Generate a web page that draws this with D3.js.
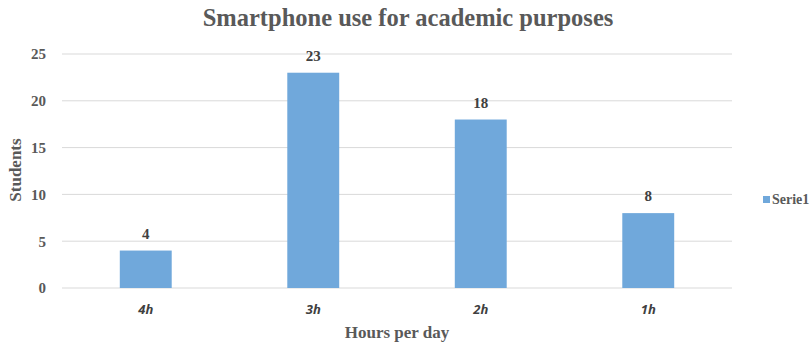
<!DOCTYPE html>
<html>
<head>
<meta charset="utf-8">
<script src="https://cdn.jsdelivr.net/npm/d3@7"></script>
<style>
  body { margin: 0; background: #fff; }
  svg { display: block; }
</style>
</head>
<body>
<div class="chart"></div>
<script>
// data
var categories = ["4h", "3h", "2h", "1h"];
var values = [4, 23, 18, 8];
var yTicks = [0, 5, 10, 15, 20, 25];
var seriesName = "Serie1";

var svgWidth = 812;
var svgHeight = 343;

var margin = { top: 54, right: 80, bottom: 55, left: 62 };
var width = 732 - margin.left;
var height = 288 - margin.top;

var serif = "'Liberation Serif', 'DejaVu Serif', serif";
var sans = "'Open Sans', 'DejaVu Sans', sans-serif";
var barColor = "#70a8db";

var svg = d3.select(".chart")
  .append("svg")
  .attr("width", svgWidth)
  .attr("height", svgHeight);

var chartGroup = svg.append("g")
  .attr("transform", `translate(${margin.left}, ${margin.top})`);

var x = d3.scaleBand()
  .domain(categories)
  .range([0, width])
  .paddingInner(0.69)
  .paddingOuter(0.345);

var y = d3.scaleLinear()
  .domain([0, 25])
  .range([height, 0]);

// gridlines
chartGroup.selectAll(".grid")
  .data(yTicks)
  .enter()
  .append("line")
  .attr("x1", 0)
  .attr("x2", width)
  .attr("y1", d => y(d))
  .attr("y2", d => y(d))
  .attr("stroke", "#d9d9d9")
  .attr("stroke-width", 1);

// y axis labels
var leftAxis = d3.axisLeft(y).tickValues(yTicks).tickSize(0).tickPadding(16);
var yAxis = chartGroup.append("g").call(leftAxis);
yAxis.select(".domain").remove();
yAxis.selectAll("text")
  .attr("font-family", serif)
  .attr("font-weight", "bold")
  .attr("font-size", "15px")
  .attr("fill", "#595959");

// x axis labels
var bottomAxis = d3.axisBottom(x).tickSize(0).tickPadding(17);
var xAxis = chartGroup.append("g")
  .attr("transform", `translate(0, ${height})`)
  .call(bottomAxis);
xAxis.select(".domain").remove();
xAxis.selectAll("text")
  .attr("font-family", sans)
  .attr("font-weight", "bold")
  .attr("font-style", "italic")
  .attr("font-size", "13px")
  .attr("fill", "#404040");

// bars
chartGroup.selectAll(".bar")
  .data(values)
  .enter()
  .append("rect")
  .attr("x", (d, i) => x(categories[i]))
  .attr("y", d => y(d))
  .attr("width", x.bandwidth())
  .attr("height", d => height - y(d))
  .attr("fill", barColor);

// value labels
chartGroup.selectAll(".val")
  .data(values)
  .enter()
  .append("text")
  .attr("x", (d, i) => x(categories[i]) + x.bandwidth() / 2)
  .attr("y", d => y(d) - 12)
  .attr("text-anchor", "middle")
  .attr("font-family", serif)
  .attr("font-weight", "bold")
  .attr("font-size", "15px")
  .attr("fill", "#404040")
  .text(d => d);

// title
svg.append("text")
  .attr("x", 408)
  .attr("y", 26)
  .attr("text-anchor", "middle")
  .attr("font-family", serif)
  .attr("font-weight", "bold")
  .attr("font-size", "24.5px")
  .attr("fill", "#595959")
  .text("Smartphone use for academic purposes");

// axis titles
svg.append("text")
  .attr("x", 397)
  .attr("y", 338)
  .attr("text-anchor", "middle")
  .attr("font-family", serif)
  .attr("font-weight", "bold")
  .attr("font-size", "17px")
  .attr("fill", "#595959")
  .text("Hours per day");

svg.append("text")
  .attr("transform", "translate(21, 170) rotate(-90)")
  .attr("text-anchor", "middle")
  .attr("font-family", serif)
  .attr("font-weight", "bold")
  .attr("font-size", "17px")
  .attr("fill", "#595959")
  .text("Students");

// legend
var legend = svg.append("g").attr("transform", "translate(763, 196)");
legend.append("rect")
  .attr("width", 7)
  .attr("height", 7)
  .attr("fill", barColor);
legend.append("text")
  .attr("x", 9)
  .attr("y", 8)
  .attr("font-family", serif)
  .attr("font-weight", "bold")
  .attr("font-size", "14px")
  .attr("fill", "#595959")
  .text(seriesName);
</script>
</body>
</html>
